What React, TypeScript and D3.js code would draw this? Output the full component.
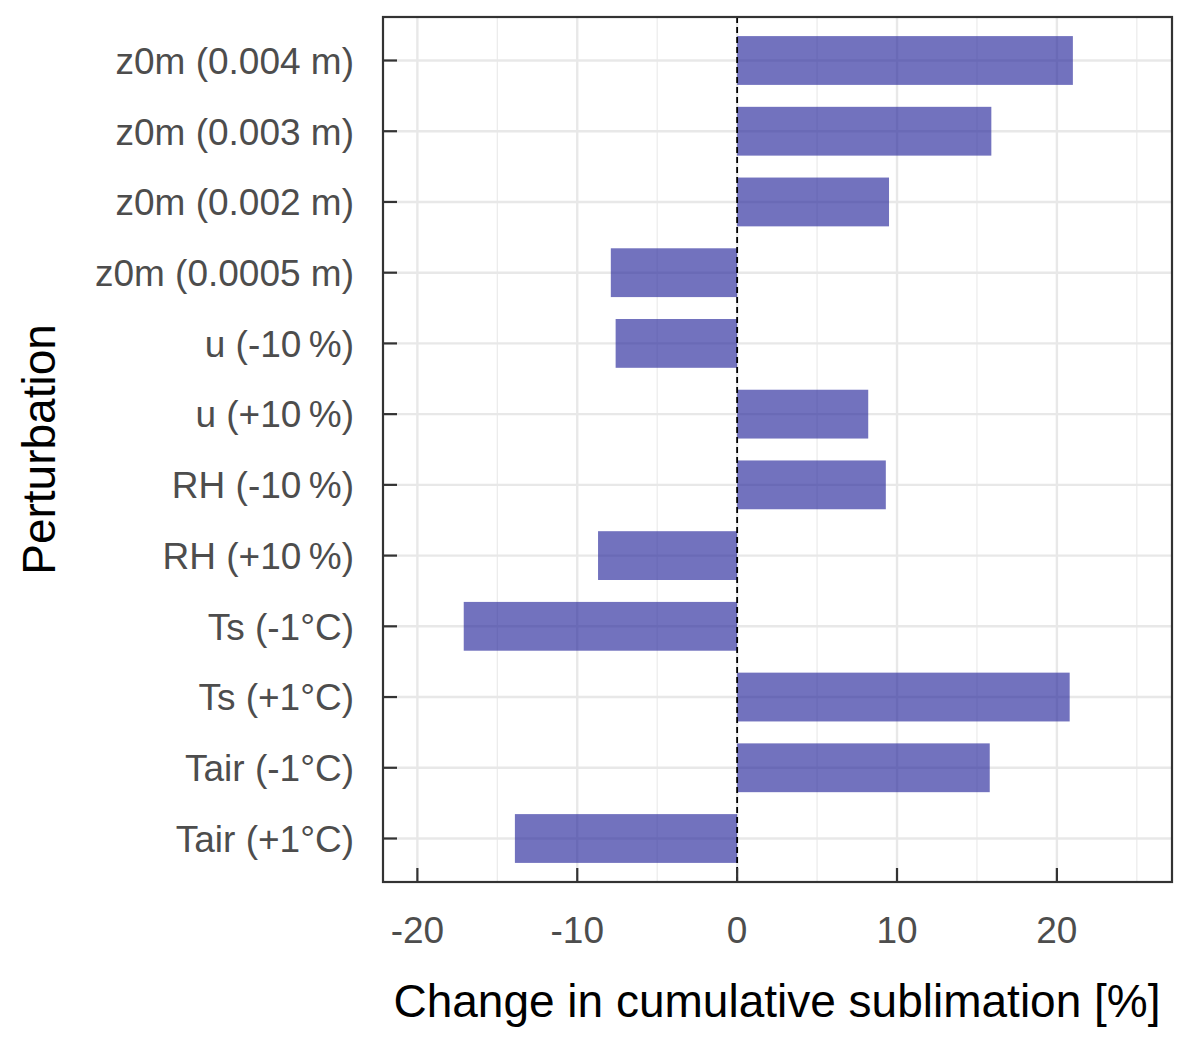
import * as d3 from 'd3';
import { useEffect, useRef } from 'react';

// Perturbations, listed top to bottom
const perturbations = [
    'z0m (0.004 m)',
    'z0m (0.003 m)',
    'z0m (0.002 m)',
    'z0m (0.0005 m)',
    'u (-10\u2009%)',
    'u (+10\u2009%)',
    'RH (-10\u2009%)',
    'RH (+10\u2009%)',
    'Ts (-1°C)',
    'Ts (+1°C)',
    'Tair (-1°C)',
    'Tair (+1°C)',
];

// Change in cumulative sublimation [%]
const changes = [21.0, 15.9, 9.5, -7.9, -7.6, 8.2, 9.3, -8.7, -17.1, 20.8, 15.8, -13.9];

const majorTicks = [-20, -10, 0, 10, 20];
const minorTicks = [-15, -5, 5, 15, 25];

export default function App() {
    const chartRef = useRef(null);

    useEffect(() => {
        const width = 1192;
        const height = 1048;
        const panel = { left: 383, right: 1172, top: 17, bottom: 882 };
        const font = 'Liberation Sans, Arial, sans-serif';

        const data = perturbations.map((p, i) => ({ name: p, value: changes[i] }));

        const xScale = d3.scaleLinear().domain([-22.15, 27.2]).range([panel.left, panel.right]);

        const yScale = d3
            .scaleBand()
            .domain(perturbations)
            .range([panel.top, panel.bottom])
            .paddingInner(0.31)
            .paddingOuter(0.27);

        const yCenter = (name: string) => (yScale(name) as number) + yScale.bandwidth() / 2;

        const svg = d3
            .select(chartRef.current)
            .append('svg')
            .attr('width', width)
            .attr('height', height)
            .style('display', 'block');

        svg.append('rect').attr('width', width).attr('height', height).attr('fill', 'white');

        // Grid lines
        svg
            .append('g')
            .selectAll('line')
            .data(minorTicks)
            .join('line')
            .attr('x1', (d) => xScale(d))
            .attr('x2', (d) => xScale(d))
            .attr('y1', panel.top)
            .attr('y2', panel.bottom)
            .attr('stroke', '#ebebeb')
            .attr('stroke-width', 1.2);

        svg
            .append('g')
            .selectAll('line')
            .data(majorTicks)
            .join('line')
            .attr('x1', (d) => xScale(d))
            .attr('x2', (d) => xScale(d))
            .attr('y1', panel.top)
            .attr('y2', panel.bottom)
            .attr('stroke', '#e8e8e8')
            .attr('stroke-width', 2.4);

        svg
            .append('g')
            .selectAll('line')
            .data(perturbations)
            .join('line')
            .attr('x1', panel.left)
            .attr('x2', panel.right)
            .attr('y1', (d) => yCenter(d))
            .attr('y2', (d) => yCenter(d))
            .attr('stroke', '#e8e8e8')
            .attr('stroke-width', 2.4);

        // Bars
        svg
            .append('g')
            .selectAll('rect')
            .data(data)
            .join('rect')
            .attr('x', (d) => xScale(Math.min(0, d.value)))
            .attr('width', (d) => Math.abs(xScale(d.value) - xScale(0)))
            .attr('y', (d) => yScale(d.name) as number)
            .attr('height', yScale.bandwidth())
            .attr('fill', 'rgb(38,38,155)')
            .attr('fill-opacity', 0.65);

        // Zero line
        svg
            .append('line')
            .attr('x1', xScale(0))
            .attr('x2', xScale(0))
            .attr('y1', panel.top)
            .attr('y2', panel.bottom)
            .attr('stroke', 'black')
            .attr('stroke-width', 1.8)
            .attr('stroke-dasharray', '6,4');

        // Panel border
        svg
            .append('rect')
            .attr('x', panel.left)
            .attr('y', panel.top)
            .attr('width', panel.right - panel.left)
            .attr('height', panel.bottom - panel.top)
            .attr('fill', 'none')
            .attr('stroke', '#333333')
            .attr('stroke-width', 2.2);

        // Y axis ticks (inward) and labels
        const yAxis = svg.append('g');
        yAxis
            .selectAll('line')
            .data(perturbations)
            .join('line')
            .attr('x1', panel.left)
            .attr('x2', panel.left + 14)
            .attr('y1', (d) => yCenter(d))
            .attr('y2', (d) => yCenter(d))
            .attr('stroke', '#333333')
            .attr('stroke-width', 2.2);
        yAxis
            .selectAll('text')
            .data(perturbations)
            .join('text')
            .attr('x', 354)
            .attr('y', (d) => yCenter(d))
            .attr('dy', '0.36em')
            .attr('text-anchor', 'end')
            .style('font-family', font)
            .style('font-size', '37px')
            .style('fill', '#4d4d4d')
            .text((d) => d);

        // X axis ticks (inward) and labels
        const xAxis = svg.append('g');
        xAxis
            .selectAll('line')
            .data(majorTicks)
            .join('line')
            .attr('x1', (d) => xScale(d))
            .attr('x2', (d) => xScale(d))
            .attr('y1', panel.bottom)
            .attr('y2', panel.bottom - 14)
            .attr('stroke', '#333333')
            .attr('stroke-width', 2.2);
        xAxis
            .selectAll('text')
            .data(majorTicks)
            .join('text')
            .attr('x', (d) => xScale(d))
            .attr('y', 930)
            .attr('dy', '0.36em')
            .attr('text-anchor', 'middle')
            .style('font-family', font)
            .style('font-size', '37px')
            .style('fill', '#4d4d4d')
            .text((d) => d3.format('d')(d).replace('−', '-'));

        // Axis titles
        svg
            .append('text')
            .attr('x', 777)
            .attr('y', 1000)
            .attr('dy', '0.36em')
            .attr('text-anchor', 'middle')
            .style('font-family', font)
            .style('font-size', '46px')
            .style('fill', 'black')
            .text('Change in cumulative sublimation [%]');

        svg
            .append('text')
            .attr('transform', `translate(38,${(panel.top + panel.bottom) / 2}) rotate(-90)`)
            .attr('dy', '0.36em')
            .attr('text-anchor', 'middle')
            .style('font-family', font)
            .style('font-size', '46px')
            .style('fill', 'black')
            .text('Perturbation');

        return () => {
            d3.select(chartRef.current).selectAll('*').remove();
        };
    }, []);

    return <div ref={chartRef} style={{ margin: '-8px' }}></div>;
}
